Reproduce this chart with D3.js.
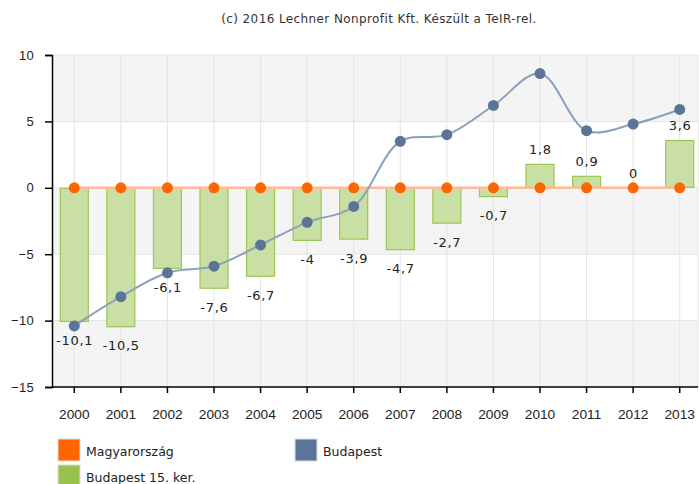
<!DOCTYPE html>
<html>
<head>
<meta charset="utf-8">
<script src="https://d3js.org/d3.v7.min.js"></script>
<style>
  body { margin: 0; background: #fff; }
  svg { font-family: "DejaVu Sans", Verdana, sans-serif; }
</style>
</head>
<body>
<svg width="699" height="484"></svg>
<script>
const years = ['2000', '2001', '2002', '2003', '2004', '2005', '2006', '2007', '2008', '2009', '2010', '2011', '2012', '2013'];
const ker15 = [-10.1, -10.5, -6.1, -7.6, -6.7, -4, -3.9, -4.7, -2.7, -0.7, 1.8, 0.9, 0, 3.6];
const budapest = [-10.4, -8.2, -6.4, -5.9, -4.3, -2.6, -1.4, 3.5, 4.0, 6.2, 8.6, 4.3, 4.8, 5.9];
const magyar = [0, 0, 0, 0, 0, 0, 0, 0, 0, 0, 0, 0, 0, 0];
const yTicks = [-15, -10, -5, 0, 5, 10];
const legendItems = [
    { name: 'Magyarország', color: '#ff6600' },
    { name: 'Budapest', color: '#5b7599' },
    { name: 'Budapest 15. ker.', color: '#99c24d' }
];

const svg = d3.select('svg');
const plotL = 52, plotR = 698, plotT = 55, plotB = 387;

let x = d3.scaleBand().domain(years).range([51, 703]);
let y = d3.scaleLinear().domain([-15, 10]).range([plotB, plotT]);
const cx = d => x(d) + x.bandwidth() / 2;

svg.append('text')
    .attr('x', 379).attr('y', 22.5)
    .attr('text-anchor', 'middle')
    .attr('font-size', 12)
    .attr('letter-spacing', 0.4)
    .attr('fill', '#333')
    .text('(c) 2016 Lechner Nonprofit Kft. Készült a TeIR-rel.');

// alternating bands
const bands = d3.pairs(yTicks).filter((p, i) => i % 2 === 0);
svg.selectAll('rect.band')
    .data(bands)
    .enter()
    .append('rect')
    .attr('x', plotL)
    .attr('width', plotR - plotL)
    .attr('y', d => y(d[1]))
    .attr('height', d => y(d[0]) - y(d[1]))
    .attr('fill', '#f4f4f4');

// grid lines
svg.selectAll('line.hgrid')
    .data(yTicks)
    .enter()
    .append('line')
    .attr('x1', plotL).attr('x2', plotR)
    .attr('y1', d => y(d)).attr('y2', d => y(d))
    .attr('stroke', '#e4e4e4');

svg.selectAll('line.vgrid')
    .data(years)
    .enter()
    .append('line')
    .attr('x1', cx).attr('x2', cx)
    .attr('y1', plotT).attr('y2', plotB)
    .attr('stroke', '#e4e4e4');

svg.append('line')
    .attr('x1', plotR).attr('x2', plotR)
    .attr('y1', plotT).attr('y2', plotB)
    .attr('stroke', '#e4e4e4');

// bars
const barW = 29;
svg.selectAll('rect.bar')
    .data(ker15)
    .enter()
    .append('rect')
    .attr('x', (d, i) => cx(years[i]) - barW / 2 + 0.5)
    .attr('y', d => y(Math.max(0, d)) + 0.5)
    .attr('width', barW - 1)
    .attr('height', d => Math.max(0, Math.abs(y(d) - y(0)) - 1))
    .attr('fill', '#c9dfa4')
    .attr('stroke', '#9cc654')
    .attr('stroke-width', 1.2);

// bar labels
svg.selectAll('text.barlabel')
    .data(ker15)
    .enter()
    .append('text')
    .attr('x', (d, i) => cx(years[i]) + 0.4)
    .attr('y', d => d < 0 ? y(d) + 23 : y(d) - 10)
    .attr('text-anchor', 'middle')
    .attr('font-size', 13)
    .attr('letter-spacing', 0.7)
    .attr('fill', '#222')
    .text(d => String(d).replace('.', ','));

// Magyarország line
let lineGen = d3.line()
    .x((d, i) => cx(years[i]))
    .y(d => y(d));

svg.append('path')
    .attr('d', lineGen(magyar))
    .attr('fill', 'none')
    .attr('stroke', '#ffbb96')
    .attr('stroke-width', 2.5);

// Budapest line
let splineGen = d3.line()
    .x((d, i) => cx(years[i]))
    .y(d => y(d))
    .curve(d3.curveCatmullRom.alpha(0.5));

svg.append('path')
    .attr('d', splineGen(budapest))
    .attr('fill', 'none')
    .attr('stroke', '#8aa0bd')
    .attr('stroke-width', 2);

svg.selectAll('circle.bud')
    .data(budapest)
    .enter()
    .append('circle')
    .attr('cx', (d, i) => cx(years[i]))
    .attr('cy', d => y(d))
    .attr('r', 5.5)
    .attr('fill', '#5b7599');

svg.selectAll('circle.hu')
    .data(magyar)
    .enter()
    .append('circle')
    .attr('cx', (d, i) => cx(years[i]))
    .attr('cy', d => y(d))
    .attr('r', 5.5)
    .attr('fill', '#ff6600');

// axes
const yAxis = svg.append('g')
    .attr('transform', 'translate(' + plotL + ',0)')
    .call(d3.axisLeft(y).tickValues(yTicks).tickSize(7).tickPadding(11));
yAxis.selectAll('text').attr('font-size', 13).attr('letter-spacing', 0.3).attr('fill', '#222').attr('font-family', null);
yAxis.selectAll('line, path').attr('stroke', '#000').attr('stroke-width', 1.5);

const xAxis = svg.append('g')
    .attr('transform', 'translate(0,' + plotB + ')')
    .call(d3.axisBottom(x).tickSize(6).tickPadding(16));
xAxis.select('.domain').attr('d', 'M' + plotL + ',0H' + plotR);
xAxis.selectAll('text').attr('font-size', 13.7).attr('fill', '#222').attr('font-family', null);
xAxis.selectAll('line, path').attr('stroke', '#000').attr('stroke-width', 1.5);

// legend
const legPos = [[58, 439], [295, 439], [58, 465]];
const leg = svg.selectAll('g.leg')
    .data(legendItems)
    .enter()
    .append('g')
    .attr('transform', (d, i) => 'translate(' + legPos[i][0] + ',' + legPos[i][1] + ')');
leg.append('rect')
    .attr('width', 22).attr('height', 22)
    .attr('fill', d => d.color)
    .attr('stroke', '#ddd');
leg.append('text')
    .attr('x', 28).attr('y', 16.5)
    .attr('font-size', 12.5)
    .attr('fill', '#222')
    .text(d => d.name);
</script>
</body>
</html>
